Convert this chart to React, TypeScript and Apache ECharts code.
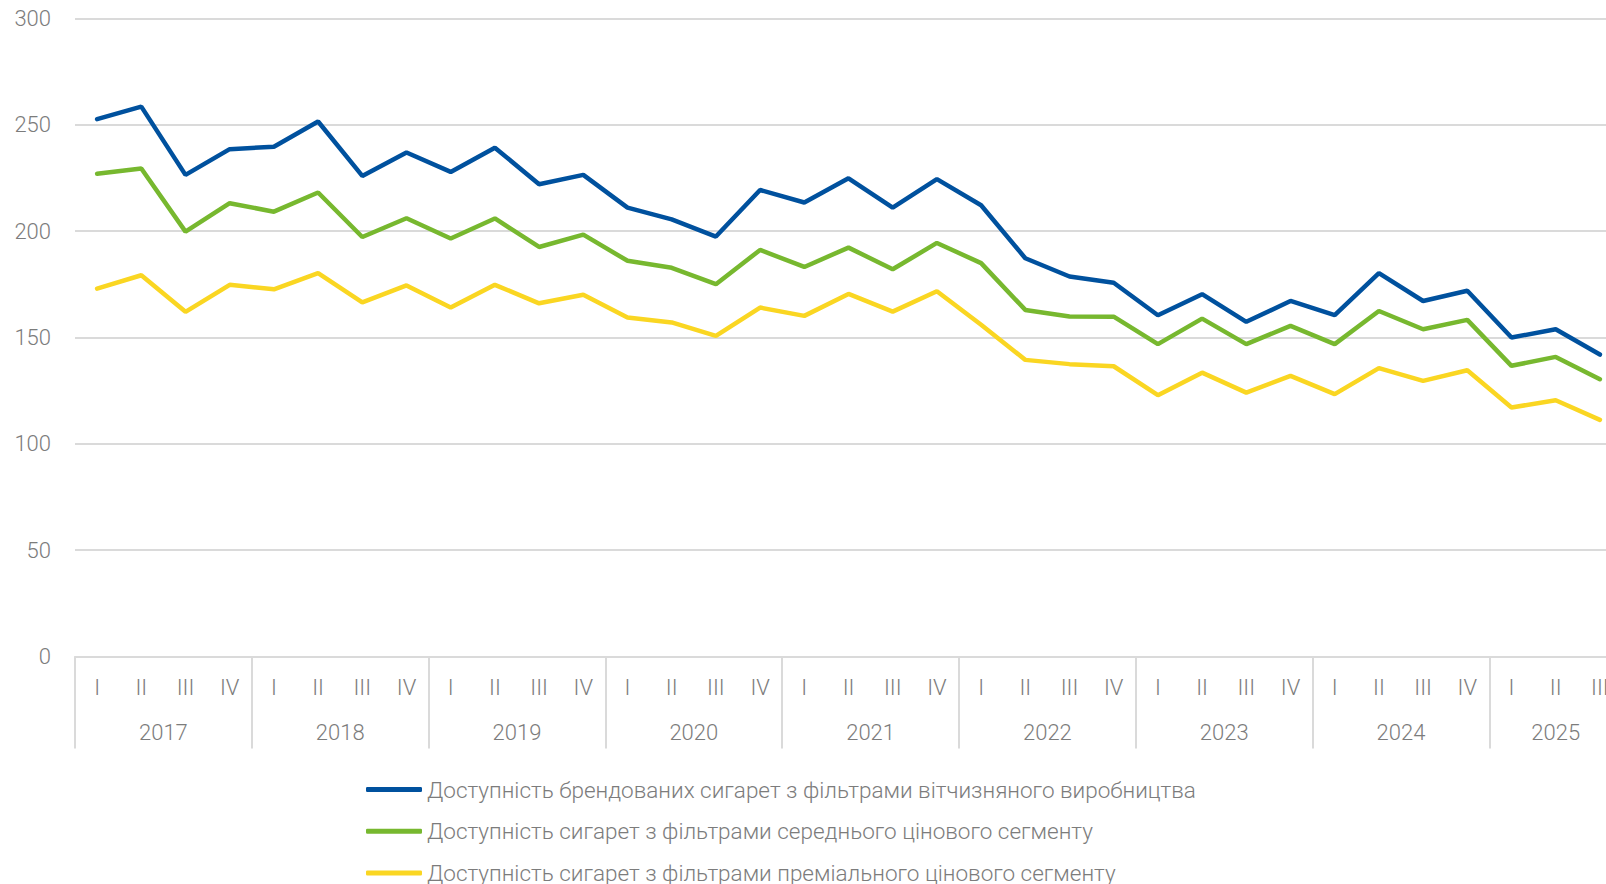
import React, { useEffect, useRef } from "react";
import * as echarts from "echarts";

const years = ["2017", "2018", "2019", "2020", "2021", "2022", "2023", "2024", "2025"];
const quartersInYear = [4, 4, 4, 4, 4, 4, 4, 4, 3];
const quarterNames = ["I", "II", "III", "IV"];
const yTicks = [0, 50, 100, 150, 200, 250, 300];

const seriesNames = [
  "Доступність брендованих сигарет з фільтрами вітчизняного виробництва",
  "Доступність сигарет з фільтрами середнього цінового сегменту",
  "Доступність сигарет з фільтрами преміального цінового сегменту",
];

const domestic = [
  252.7, 258.6, 226.5, 238.6,
  239.7, 251.6, 226, 237,
  227.9, 239.3, 222.1, 226.5,
  211.1, 205.6, 197.5, 219.4,
  213.5, 224.9, 211.1, 224.5,
  212.2, 187.3, 178.7, 175.8,
  160.5, 170.4, 157.4, 167.2,
  160.5, 180.3, 167.2, 172,
  150, 153.9, 142,
];

const midSegment = [
  227, 229.5, 199.8, 213.2,
  209.2, 218.2, 197.3, 206.1,
  196.6, 206, 192.6, 198.4,
  186.1, 182.8, 175.1, 191.2,
  183.2, 192.3, 182.1, 194.5,
  185, 163, 159.9, 159.8,
  146.9, 158.9, 146.9, 155.5,
  146.9, 162.5, 153.9, 158.3,
  136.7, 140.9, 130.4,
];

const premiumSegment = [
  173, 179.3, 162.1, 174.8,
  172.7, 180.3, 166.5, 174.5,
  164.1, 174.8, 166.1, 170.1,
  159.4, 157.1, 150.8, 164.1,
  160.2, 170.5, 162.2, 171.8,
  156, 139.5, 137.5, 136.5,
  122.9, 133.5, 124.1, 132,
  123.4, 135.6, 129.6, 134.6,
  117.1, 120.5, 111.3,
];

const colors = ["#00519E", "#77B82F", "#FAD622"];

export default function App() {
  const ref = useRef<HTMLDivElement>(null);

  useEffect(() => {
    if (!ref.current) return;
    const chart = echarts.init(ref.current, undefined, { renderer: "svg" });

    const categories: string[] = [];
    const yearStart: number[] = [];
    const yearCenters: Record<string, string> = {};
    let idx = 0;
    years.forEach((y, i) => {
      yearStart.push(idx);
      const n = quartersInYear[i];
      yearCenters[String(idx + n / 2)] = y;
      for (let q = 0; q < n; q++) categories.push(quarterNames[q]);
      idx += n;
    });
    const total = categories.length;

    const font = "Roboto, 'Noto Sans', sans-serif";
    const textColor = "#7c7c7c";
    const gridColor = "#dadada";
    const fs = 22;

    const datasets = [domestic, midSegment, premiumSegment];

    chart.setOption({
      animation: false,
      color: colors,
      grid: { left: 75, right: 8, top: 18.6, bottom: 227.5, outerBoundsMode: "none" },
      xAxis: [
        {
          type: "category",
          data: categories,
          boundaryGap: true,
          position: "bottom",
          axisLine: { show: true, lineStyle: { color: gridColor, width: 2 } },
          axisTick: {
            show: true,
            length: 92,
            interval: (i: number) => yearStart.indexOf(i) >= 0,
            lineStyle: { color: gridColor, width: 2 },
          },
          axisLabel: {
            interval: 0,
            margin: 20,
            color: textColor,
            fontSize: fs,
            fontFamily: font,
            fontWeight: 300,
          },
        },
        {
          type: "value",
          min: 0,
          max: total,
          interval: 0.5,
          position: "bottom",
          offset: 0,
          axisLine: { show: false },
          axisTick: { show: false },
          splitLine: { show: false },
          axisLabel: {
            margin: 65,
            color: textColor,
            fontSize: fs,
            fontFamily: font,
            fontWeight: 300,
            showMinLabel: true,
            showMaxLabel: true,
            formatter: (v: number) => yearCenters[String(v)] || "",
          },
        },
      ],
      yAxis: {
        type: "value",
        min: yTicks[0],
        max: yTicks[yTicks.length - 1],
        interval: 50,
        axisLine: { show: false },
        axisTick: { show: false },
        splitLine: { lineStyle: { color: gridColor, width: 2 } },
        axisLabel: {
          margin: 24,
          color: textColor,
          fontSize: fs,
          fontFamily: font,
          fontWeight: 300,
        },
      },
      legend: {
        orient: "vertical",
        left: 361,
        top: 773,
        height: 130,
        itemGap: 18.8,
        itemWidth: 56,
        itemHeight: 5,
        icon: "roundRect",
        textStyle: { color: textColor, fontSize: 22.5, fontFamily: font, fontWeight: 300 },
        data: seriesNames,
      },
      series: datasets.map((d, i) => ({
        name: seriesNames[i],
        type: "line",
        xAxisIndex: 0,
        data: d,
        symbol: "none",
        smooth: false,
        lineStyle: { width: 4.5, color: colors[i], cap: "round" },
        itemStyle: { color: colors[i] },
      })),
    });

    return () => chart.dispose();
  }, []);

  return (
    <div
      style={{
        position: "absolute",
        left: 0,
        top: 0,
        width: 1606,
        height: 884,
        overflow: "hidden",
      }}
    >
      <div ref={ref} style={{ width: 1630, height: 884 }} />
    </div>
  );
}
